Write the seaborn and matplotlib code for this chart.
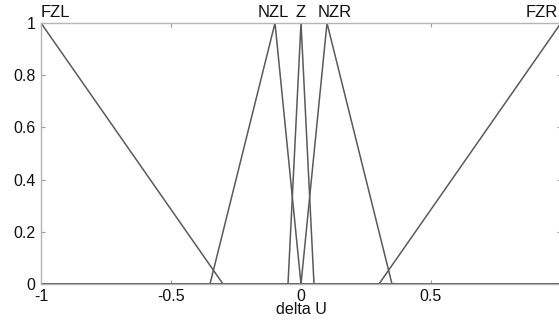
import matplotlib
matplotlib.use("Agg")
import matplotlib.pyplot as plt
import matplotlib.transforms as mtransforms
import seaborn as sns
import pandas as pd

# Membership functions (breakpoints over the universe [-1, 1])
mf_names = ["FZL", "NZL", "Z", "NZR", "FZR"]
mf_x = {
    "FZL": [-1.0, -0.3, 1.0],
    "NZL": [-1.0, -0.35, -0.1, 0.0, 1.0],
    "Z":   [-1.0, -0.05, 0.0, 0.05, 1.0],
    "NZR": [-1.0, 0.0, 0.1, 0.35, 1.0],
    "FZR": [-1.0, 0.3, 1.0],
}
mf_y = {
    "FZL": [1, 0, 0],
    "NZL": [0, 0, 1, 0, 0],
    "Z":   [0, 0, 1, 0, 0],
    "NZR": [0, 0, 1, 0, 0],
    "FZR": [0, 0, 1],
}
label_x = {"FZL": -1.0, "NZL": -0.105, "Z": 0.0, "NZR": 0.13, "FZR": 1.0}
label_ha = {"FZL": "left", "NZL": "center", "Z": "center", "NZR": "center", "FZR": "right"}
x_ticks = [-1, -0.5, 0, 0.5, 1]
x_ticklabels = ["-1", "-0.5", "0", "0.5", ""]  # label at 1 falls outside the visible area
y_ticks = [0, 0.2, 0.4, 0.6, 0.8, 1]
y_ticklabels = ["0", "0.2", "0.4", "0.6", "0.8", "1"]
x_label = "delta U"

rows = []
for name in mf_names:
    for i, (xv, yv) in enumerate(zip(mf_x[name], mf_y[name])):
        rows.append({"mf": name, "order": i, "x": xv, "mu": yv})
df = pd.DataFrame(rows)

sns.set_style("white")
plt.rcParams["font.family"] = ["Liberation Sans", "DejaVu Sans"]

fig = plt.figure(figsize=(5.59, 3.20), dpi=100)
W, H = 559, 320
left, right, top, bottom = 41, 561, 23, 284
ax = fig.add_axes([left / W, 1 - bottom / H, (right - left) / W, (bottom - top) / H])

line_color = "#5a5a5a"
for name in mf_names:
    sub = df[df["mf"] == name]
    sns.lineplot(data=sub, x="x", y="mu", sort=False, estimator=None,
                 color=line_color, linewidth=1.1, ax=ax, legend=False)

ax.set_xlim(-1, 1)
ax.set_ylim(0, 1)
ax.set_xticks(x_ticks)
ax.set_xticklabels(x_ticklabels)
ax.set_yticks(y_ticks)
ax.set_yticklabels(y_ticklabels)
ax.set_xlabel(x_label, fontsize=11.5, labelpad=-1, color="#111111")
ax.set_ylabel("")

spine_c = "#b5b5b5"
for s in ax.spines.values():
    s.set_visible(True)
    s.set_color(spine_c)
    s.set_linewidth(1.0)
ax.tick_params(direction="in", length=3, width=0.8, color="#999999",
               labelsize=11.5, labelcolor="#111111", top=True, right=True,
               bottom=True, left=True)
ax.tick_params(axis="x", pad=3.5)
ax.tick_params(axis="y", pad=4)

for name in mf_names:
    dx = -3 if name == "FZR" else 0
    tr = ax.transData + mtransforms.ScaledTranslation(dx / 100, 0, fig.dpi_scale_trans)
    ax.text(label_x[name], 1.01, name, ha=label_ha[name], va="bottom",
            fontsize=12, color="#111111", clip_on=False, transform=tr)

fig.savefig("out.png", dpi=100)
